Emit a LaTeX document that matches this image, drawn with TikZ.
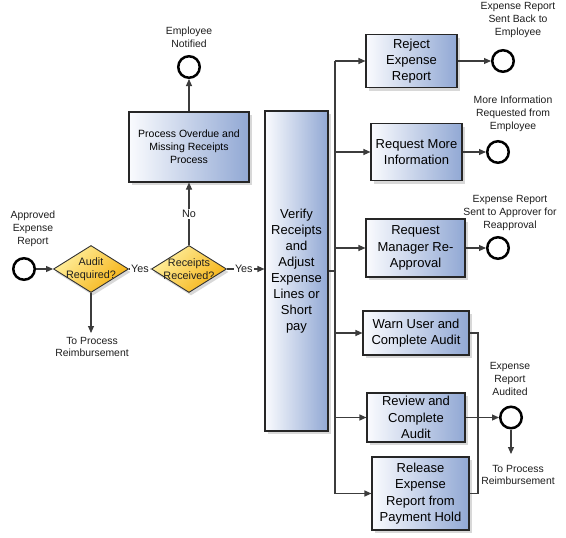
\documentclass[tikz,border=0pt]{standalone}
\usepackage{fontspec}
\setmainfont{Liberation Sans}
\usetikzlibrary{shapes.geometric,arrows.meta,shadows}
\definecolor{boxblue}{RGB}{145,168,212}
\definecolor{boxwhite}{RGB}{250,251,254}
\definecolor{dialight}{RGB}{255,240,160}
\definecolor{diadark}{RGB}{245,178,20}
\definecolor{linec}{RGB}{60,60,60}
\definecolor{txt}{RGB}{30,30,30}
\tikzset{
 box/.style={draw=black!85, line width=1.1pt, left color=boxwhite, right color=boxblue,
   align=center, inner sep=1pt, font=\fontsize{13}{16.3}\selectfont,
   drop shadow={shadow xshift=3pt, shadow yshift=-3pt, opacity=0.3}},
 smallbox/.style={box, font=\fontsize{10.5}{13}\selectfont},
 dia/.style={diamond, draw=black!80, line width=0.9pt, minimum width=75pt, minimum height=47pt,
   inner sep=0pt, shading=axis, top color=dialight, bottom color=diadark, shading angle=45,
   drop shadow={shadow xshift=2pt, shadow yshift=-3pt, opacity=0.3}},
 dtext/.style={align=center, font=\fontsize{10.8}{13.5}\selectfont, text=txt, inner sep=0pt},
 ev/.style={circle, draw=black, line width=2.5pt, minimum size=21.5pt, inner sep=0pt, fill=white},
 lbl/.style={align=center, font=\fontsize{10.4}{12.8}\selectfont, text=txt, inner sep=0pt},
 yn/.style={fill=white, font=\fontsize{10.8}{13}\selectfont, text=txt, inner sep=1pt},
 arr/.style={draw=linec, line width=1.1pt, -{Triangle[length=7pt,width=6pt]}},
 conn/.style={draw=linec, line width=1.1pt},
}
\begin{document}
\begin{tikzpicture}[x=1pt,y=-1pt]
\useasboundingbox[fill=white] (0,0) rectangle (566,538);

% start event and diamonds
\node[ev] (start) at (24,269) {};
\node[lbl] (startlbl) at (33,229) {Approved\\Expense\\Report};
\node[dia] (audit) at (91,269) {};
\node[dtext] (audittxt) at (audit) {Audit\\Required?};
\node[dia] (receipts) at (189,269) {};
\node[dtext] (receiptstxt) at (receipts) {Receipts\\Received?};

% process overdue
\node[smallbox, minimum width=120pt, minimum height=70pt] (proc) at (189,147)
  {Process Overdue and\\Missing Receipts\\Process};
\node[ev] (empnot) at (189,67) {};
\node[lbl] (empnotlbl) at (189,37) {Employee\\Notified};

% verify
\node[box, minimum width=63pt, minimum height=320pt, font=\fontsize{13}{16}\selectfont] (verify) at (296.5,271)
  {Verify\\Receipts\\and\\Adjust\\Expense\\Lines or\\Short\\pay};

% right boxes
\node[box, minimum width=91pt, minimum height=53pt] (reject) at (411.5,61) {Reject\\Expense\\Report};
\node[box, minimum width=91pt, minimum height=57pt] (reqinfo) at (416.5,152) {Request More\\Information};
\node[box, minimum width=99pt, minimum height=58pt] (reqmgr) at (415.5,248) {Request\\Manager Re-\\Approval};
\node[box, minimum width=106pt, minimum height=44pt] (warn) at (416,333) {Warn User and\\Complete Audit};
\node[box, minimum width=98pt, minimum height=49pt] (review) at (416,417.5) {Review and\\Complete\\Audit};
\node[box, minimum width=97pt, minimum height=73pt] (release) at (420.5,493.5) {Release\\Expense\\Report from\\Payment Hold};

% end events
\node[ev] (c1) at (503,61) {};
\node[lbl] (c1lbl) at (518,20) {Expense Report\\Sent Back to\\Employee};
\node[ev] (c2) at (498,152) {};
\node[lbl] (c2lbl) at (513,114) {More Information\\Requested from\\Employee};
\node[ev] (c3) at (498,248) {};
\node[lbl] (c3lbl) at (510,213) {Expense Report\\Sent to Approver for\\Reapproval};
\node[ev] (c4) at (511,417.5) {};
\node[lbl] (c4lbl) at (510,379) {Expense\\Report\\Audited};

% free ends
\coordinate (auditend) at (91,333);
\node[lbl] (auditendlbl) at (92,347) {To Process\\Reimbursement};
\coordinate (c4end) at (511,454);
\node[lbl] (c4endlbl) at (518,475) {To Process\\Reimbursement};
\coordinate (bustop) at (335,61);
\coordinate (mx) at (478,333);

% connectors
\draw[arr] (start) -- (audit.west);
\draw[arr] (audit.east) -- node[yn] (yes1) {Yes} (receipts.west);
\draw[arr] (receipts.east) -- node[yn, pos=0.45] (yes2) {Yes} (receipts.east -| verify.west);
\draw[arr] (receipts.north) -- node[yn, pos=0.5] (no) {No} (proc.south);
\draw[arr] (proc.north) -- (empnot.south);
\draw[arr] (audit.south) -- (auditend);

\draw[conn] (verify.east) -- (verify.east -| bustop);
\draw[conn] (bustop) -- (bustop |- release.west);
\draw[arr] (bustop) -- (reject.west);
\draw[arr] (bustop |- reqinfo.west) -- (reqinfo.west);
\draw[arr] (bustop |- reqmgr.west) -- (reqmgr.west);
\draw[arr] (bustop |- warn.west) -- (warn.west);
\draw[arr] (bustop |- review.west) -- (review.west);
\draw[arr] (bustop |- release.west) -- (release.west);

\draw[arr] (reject.east) -- (c1.west);
\draw[arr] (reqinfo.east) -- (c2.west);
\draw[arr] (reqmgr.east) -- (c3.west);
\draw[arr] (review.east) -- (c4.west);
\draw[conn] (warn.east) -- (warn.east -| mx) -- (release.east -| mx) -- (release.east);
\draw[arr] (c4.south) -- (c4end);
\end{tikzpicture}
\end{document}
